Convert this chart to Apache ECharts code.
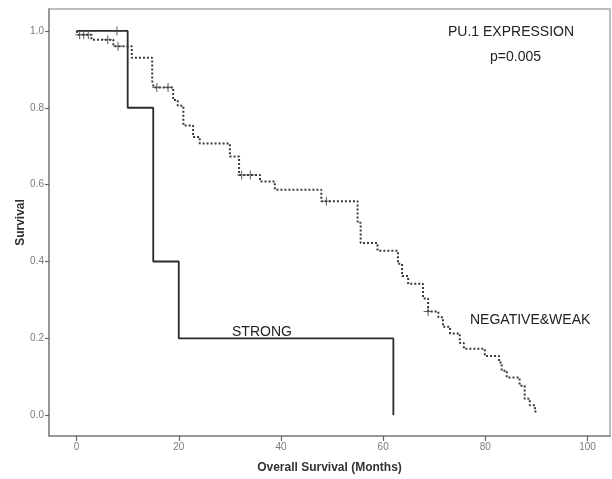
<!DOCTYPE html>
<html lang="en">
<head>
    <meta charset="UTF-8"/>
    <script src="https://cdn.jsdelivr.net/npm/echarts@6.0.0/dist/echarts.min.js"></script>
    <title>PU.1 Survival</title>
    <style>
        html, body { margin: 0; padding: 0; background: #fff; }
        #chart { width: 612px; height: 479px; }
    </style>
</head>
<body>
<div id="chart"></div>
<script type="text/javascript">
    // Kaplan-Meier steps (months, survival after the event)
    var negTimes = [0, 0.3, 2.9, 7.2, 10.8, 14.8, 15.1, 18.9, 19.8, 20.9, 22.8, 24.1, 30.0, 31.8, 35.9, 38.8,
        47.9, 55.0, 55.6, 58.9, 62.9, 63.7, 64.9, 67.8, 68.8, 70.8, 71.7, 73.1, 75.0, 75.8, 79.9, 82.7,
        83.2, 84.2, 86.7, 87.7, 88.7, 89.7, 90.0];
    var negSurv = [1.0, 0.99, 0.977, 0.96, 0.93, 0.87, 0.853, 0.82, 0.805, 0.754, 0.724, 0.707, 0.673, 0.625, 0.608, 0.587,
        0.557, 0.501, 0.448, 0.428, 0.394, 0.362, 0.342, 0.304, 0.27, 0.255, 0.23, 0.213, 0.188, 0.173, 0.154, 0.137,
        0.116, 0.098, 0.077, 0.043, 0.026, 0.01, 0.01];
    var negCensorTimes = [0.6, 1.4, 2.3, 6.1, 8.1, 15.7, 17.9, 32.3, 34.0, 48.9, 68.8];
    var negCensorSurv = [0.99, 0.99, 0.99, 0.977, 0.96, 0.853, 0.853, 0.625, 0.625, 0.557, 0.27];

    var strongTimes = [0, 10, 15, 20, 62];
    var strongSurv = [1.0, 0.8, 0.4, 0.2, 0.0];
    var strongCensorTimes = [7.9];
    var strongCensorSurv = [1.0];

    var xTicks = [0, 20, 40, 60, 80, 100];
    var yTicks = [0, 0.2, 0.4, 0.6, 0.8, 1.0];

    function zip(a, b) {
        var out = [];
        for (var i = 0; i < a.length; i++) {
            out.push([a[i], b[i]]);
        }
        return out;
    }

    var plusSymbol = 'path://M0,4.4h10v1.2h-10zM4.4,0h1.2v10h-1.2z';
    var fontName = '"Liberation Sans", Arial, sans-serif';

    var myChart = echarts.init(document.getElementById('chart'));
    var option = {
        backgroundColor: '#fff',
        animation: false,
        grid: {
            left: 49, top: 9, right: 2, bottom: 38,
            show: true,
            borderColor: '#a8a8a8',
            borderWidth: 1.5
        },
        xAxis: {
            type: 'value',
            min: -5.4,
            max: 104.4,
            splitLine: { show: false },
            axisLine: { show: true, onZero: false, lineStyle: { color: '#8a8a8a', width: 1.5 } },
            axisTick: { show: true, customValues: xTicks, length: 5, lineStyle: { color: '#666', width: 1.2 } },
            axisLabel: { customValues: xTicks, color: '#7a7a7a', fontSize: 10, fontFamily: fontName, margin: 6 },
            name: 'Overall Survival (Months)',
            nameLocation: 'middle',
            nameGap: 26,
            nameMoveOverlap: false,
            nameTextStyle: { color: '#333', fontSize: 12, fontWeight: 'bold', fontFamily: fontName }
        },
        yAxis: {
            type: 'value',
            min: -0.054,
            max: 1.057,
            splitLine: { show: false },
            axisLine: { show: true, onZero: false, lineStyle: { color: '#8a8a8a', width: 1.5 } },
            axisTick: { show: true, customValues: yTicks, length: 4, lineStyle: { color: '#666', width: 1.2 } },
            axisLabel: {
                customValues: yTicks, color: '#7a7a7a', fontSize: 10, fontFamily: fontName, margin: 5,
                formatter: function (v) { return v.toFixed(1); }
            },
            name: 'Survival',
            nameLocation: 'middle',
            nameGap: 22,
            nameMoveOverlap: false,
            nameTextStyle: { color: '#333', fontSize: 12, fontWeight: 'bold', fontFamily: fontName }
        },
        series: [
            {
                name: 'NEGATIVE&WEAK',
                type: 'line',
                step: 'end',
                symbol: 'none',
                data: zip(negTimes, negSurv),
                lineStyle: { color: '#3a3a3a', width: 2, type: [2, 2] },
                z: 3
            },
            {
                name: 'STRONG',
                type: 'line',
                step: 'end',
                symbol: 'none',
                data: zip(strongTimes, strongSurv),
                lineStyle: { color: '#2a2a2a', width: 1.8 },
                z: 2
            },
            {
                name: 'neg censored',
                type: 'scatter',
                symbol: plusSymbol,
                symbolSize: [9, 9],
                itemStyle: { color: '#444' },
                data: zip(negCensorTimes, negCensorSurv),
                z: 4
            },
            {
                name: 'strong censored',
                type: 'scatter',
                symbol: plusSymbol,
                symbolSize: [9, 9],
                itemStyle: { color: '#444' },
                data: zip(strongCensorTimes, strongCensorSurv),
                z: 4
            }
        ],
        graphic: [
            {
                type: 'text', left: 448, top: 25,
                style: { text: 'PU.1 EXPRESSION', fill: '#222', font: '14px ' + fontName }
            },
            {
                type: 'text', left: 490, top: 50,
                style: { text: 'p=0.005', fill: '#222', font: '14px ' + fontName }
            },
            {
                type: 'text', left: 470, top: 313,
                style: { text: 'NEGATIVE&WEAK', fill: '#222', font: '14px ' + fontName }
            },
            {
                type: 'text', left: 232, top: 325,
                style: { text: 'STRONG', fill: '#222', font: '14px ' + fontName }
            }
        ]
    };
    myChart.setOption(option);
</script>
</body>
</html>
